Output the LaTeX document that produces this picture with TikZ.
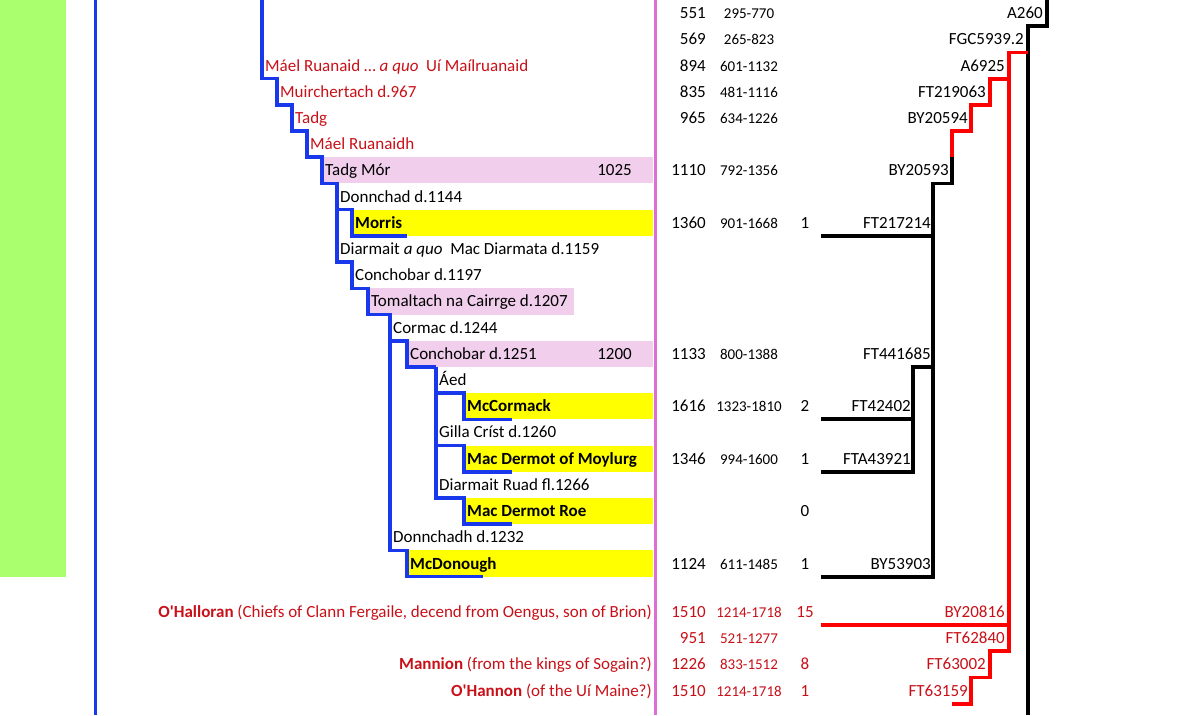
\documentclass[tikz,border=0pt]{standalone}
\usepackage{fontspec}
\setmainfont{Carlito}

\definecolor{barGreen}{RGB}{170,255,110}
\definecolor{ladBlue}{RGB}{25,55,235}
\definecolor{sepPink}{RGB}{220,110,215}
\definecolor{boxPink}{RGB}{240,206,236}
\definecolor{boxYel}{RGB}{255,255,0}
\definecolor{nameRed}{RGB}{200,16,24}
\definecolor{hapRed}{RGB}{255,0,0}

\tikzset{
  ladder/.style={draw=ladBlue,line width=3.6pt,line join=miter},
  hapline/.style={line width=3.8pt,line join=miter},
  rng/.style={font=\fontsize{15}{17}\selectfont},
}

\begin{document}
\begin{tikzpicture}[x=1pt,y=-26.21pt,
  every node/.style={font=\fontsize{17}{20}\selectfont,inner sep=0pt,text height=12pt,text depth=1pt}]
\useasboundingbox (0,0) rectangle (1200,27.28);

\fill[barGreen] (0,0) rectangle (66,22);

\coordinate (cOuterTopPt) at (95,0);
\coordinate (cOuterEndPt) at (95,27.28);
\draw[draw=ladBlue,line width=3pt] (cOuterTopPt) -- (cOuterEndPt);

%boxes behind the names
\foreach \r/\x/\w/\c in
{7/322/653/boxPink,
    9/352/653/boxYel,
    12/368/574/boxPink,
    14/407/653/boxPink,
    16/464/653/boxYel,
    18/464/653/boxYel,
    20/464/653/boxYel,
    22/407/653/boxYel}
{
    \fill[\c] (\x,\r-1) rectangle (\w,\r);
};

\node[anchor=east] (nTadgMYr) at (632,6.5) {1025};
\node[anchor=east] (nConBYr) at (632,13.5) {1200};

%names of the line
\foreach \k/\r/\x/\t in
{MaelA/3/262/{\color{nameRed}Máel Ruanaid … \textit{a quo}\ \ Uí Maílruanaid},
    Muir/4/277/{\color{nameRed}Muirchertach d.967},
    TadgA/5/292/{\color{nameRed}Tadg},
    MaelB/6/307/{\color{nameRed}Máel Ruanaidh},
    TadgM/7/322/{Tadg Mór},
    DonnA/8/337/{Donnchad d.1144},
    Morris/9/352/{\textbf{Morris}},
    Diar/10/337/{Diarmait \textit{a quo}\ \ Mac Diarmata d.1159},
    ConA/11/352/{Conchobar d.1197},
    Tom/12/368/{Tomaltach na Cairrge d.1207},
    Corm/13/390/{Cormac d.1244},
    ConB/14/407/{Conchobar d.1251},
    Aed/15/436/{Áed},
    McCor/16/464/{\textbf{McCormack}},
    Gilla/17/436/{Gilla Críst d.1260},
    Moy/18/464/{\textbf{Mac Dermot of Moylurg}},
    DiarR/19/436/{Diarmait Ruad fl.1266},
    Roe/20/464/{\textbf{Mac Dermot Roe}},
    DonnB/21/390/{Donnchadh d.1232},
    McDon/22/407/{\textbf{McDonough}}}
{
    \coordinate (c\k Pt) at (\x,\r-1);
    \node[anchor=west] (n\k) at (\x+3,\r-0.5) {\t};
};

\foreach \k/\r/\x in
{Morris/9/407,
    McCor/16/512,
    Moy/18/512,
    Roe/20/512,
    McDon/22/483}
{
    \coordinate (c\k EndPt) at (\x,\r);
};
\coordinate (cLadTopPt) at (262,0);

%the blue ladder
\draw[ladder] (cLadTopPt) |- (cMuirPt) |- (cTadgAPt) |- (cMaelBPt) |- (cTadgMPt)
  |- (cDonnAPt) |- (cConAPt) |- (cTomPt) |- (cCormPt) |- (cMcDonPt) |- (cMcDonEndPt);
\draw[ladder] (cDonnAPt) |- (cMorrisPt) |- (cMorrisEndPt);
\draw[ladder] (cCormPt) |- (cConBPt) |- (cAedPt);
\draw[ladder] (cAedPt) |- (cMcCorPt) |- (cMcCorEndPt);
\draw[ladder] (cAedPt) |- (cMoyPt) |- (cMoyEndPt);
\draw[ladder] (cAedPt) |- (cRoePt) |- (cRoeEndPt);

\coordinate (cSepTopPt) at (655,0);
\coordinate (cSepEndPt) at (655,27.28);
\draw[draw=sepPink,line width=3pt] (cSepTopPt) -- (cSepEndPt);

%red families
\foreach \r/\t [count=\i] in
{23.85/{\textbf{O\textquotesingle Halloran} (Chiefs of Clann Fergaile, decend from Oengus, son of Brion)},
    25.85/{\textbf{Mannion} (from the kings of Sogain?)},
    26.85/{\textbf{O\textquotesingle Hannon} (of the Uí Maine?)}}
{
    \node[anchor=east,text=nameRed] (nFam\i) at (652,\r-0.5) {\t};
};

%ages, ranges and counts
\foreach \r/\a/\b/\c [count=\i] in
{1/551/295-770/{},
    2/569/265-823/{},
    3/894/601-1132/{},
    4/835/481-1116/{},
    5/965/634-1226/{},
    7/1110/792-1356/{},
    9/1360/901-1668/1,
    14/1133/800-1388/{},
    16/1616/1323-1810/2,
    18/1346/994-1600/1,
    20/{}/{}/0,
    22/1124/611-1485/1}
{
    \node[anchor=east] (nAge\i) at (706,\r-0.5) {\a};
    \node[rng] (nRng\i) at (749,\r-0.5) {\b};
    \node (nCnt\i) at (805,\r-0.5) {\c};
};
\foreach \r/\a/\b/\c [count=\i] in
{23.85/1510/1214-1718/15,
    24.85/951/521-1277/{},
    25.85/1226/833-1512/8,
    26.85/1510/1214-1718/1}
{
    \node[anchor=east,text=nameRed] (nRAge\i) at (706,\r-0.5) {\a};
    \node[rng,text=nameRed] (nRRng\i) at (749,\r-0.5) {\b};
    \node[text=nameRed] (nRCnt\i) at (805,\r-0.5) {\c};
};

%haplogroups
\foreach \t/\r/\x [count=\i] in
{A260/1/1043,
    FGC5939.2/2/1024,
    A6925/3/1005,
    FT219063/4/986,
    BY20594/5/968,
    BY20593/7/949,
    FT217214/9/931,
    FT441685/14/931,
    FT42402/16/911,
    FTA43921/18/911,
    BY53903/22/931}
{
    \node[anchor=east] (nHap\i) at (\x,\r-0.5) {\t};
};
\foreach \t/\r/\x [count=\i] in
{BY20816/23.85/1005,
    FT62840/24.85/1005,
    FT63002/25.85/986,
    FT63159/26.85/968}
{
    \node[anchor=east,text=nameRed] (nRHap\i) at (\x,\r-0.5) {\t};
};

\coordinate (cA260Pt) at (1047,0);
\coordinate (cFGCPt) at (1028,1);
\coordinate (cMainEndPt) at (1028,27.28);
\coordinate (cRedTopPt) at (1028,2);
\coordinate (cA6925Pt) at (1009,3);
\coordinate (cFT219063Pt) at (990,4);
\coordinate (cBY20594Pt) at (971,5);
\coordinate (cBY20593Pt) at (952,6);
\coordinate (cFT217214TopPt) at (933,7);
\coordinate (cFT217214Pt) at (933,9);
\coordinate (cFT217214EndPt) at (821,9);
\coordinate (cFT441685Pt) at (933,14);
\coordinate (cFT42402Pt) at (913,16);
\coordinate (cFT42402EndPt) at (821,16);
\coordinate (cFTA43921Pt) at (913,18);
\coordinate (cFTA43921EndPt) at (821,18);
\coordinate (cBY53903Pt) at (933,22);
\coordinate (cBY53903EndPt) at (821,22);
\coordinate (cBY20816Pt) at (1009,23.85);
\coordinate (cBY20816EndPt) at (821,23.85);
\coordinate (cFT62840Pt) at (1009,24.85);
\coordinate (cFT63002Pt) at (990,25.85);
\coordinate (cFT63159Pt) at (971,26.85);
\coordinate (cRedEndPt) at (952,26.85);

%the haplotree
\draw[hapline] (cA260Pt) |- (cFGCPt) -- (cMainEndPt);
\draw[hapline,draw=hapRed] (cRedTopPt) -| (cFT62840Pt) -| (cFT63002Pt) -| (cFT63159Pt) -- (cRedEndPt);
\draw[hapline,draw=hapRed] (cBY20816Pt) -- (cBY20816EndPt);
\draw[hapline,draw=hapRed] (cA6925Pt) -| (cFT219063Pt) -| (cBY20594Pt) -| (cBY20593Pt);
\draw[hapline] (cBY20593Pt) |- (cFT217214TopPt) -- (cBY53903Pt) -- (cBY53903EndPt);
\draw[hapline] (cFT217214Pt) -- (cFT217214EndPt);
\draw[hapline] (cFT441685Pt) -| (cFTA43921Pt) -- (cFTA43921EndPt);
\draw[hapline] (cFT42402Pt) -- (cFT42402EndPt);

\end{tikzpicture}
\end{document}
